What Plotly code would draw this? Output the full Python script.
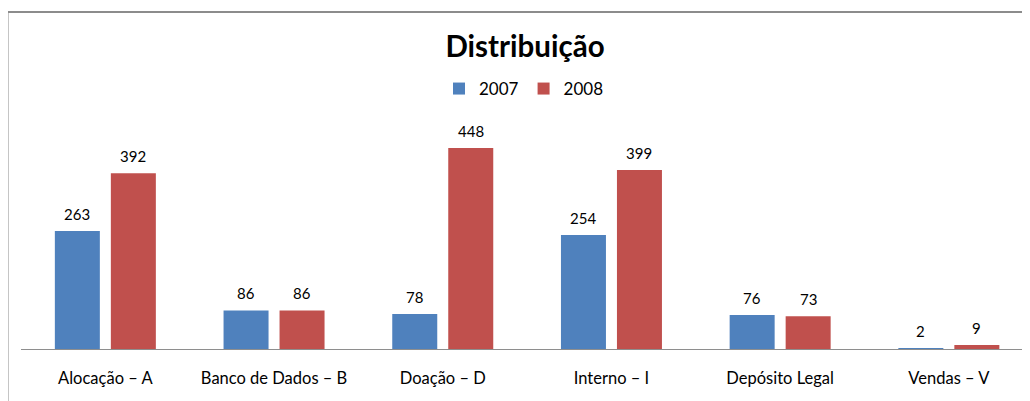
import plotly.graph_objects as go

categories = ["Alocação – A", "Banco de Dados – B", "Doação – D", "Interno – I", "Depósito Legal", "Vendas – V"]
series_names = ["2007", "2008"]
values_2007 = [263, 86, 78, 254, 76, 2]
values_2008 = [392, 86, 448, 399, 73, 9]

colors = ["#4F81BD", "#C0504D"]
FONT = "Lato"

# page body has an 8px margin, so the figure is offset to compensate
W, H = 1030, 393
ML, MT, MB = 13, 92, 52
plot_w = W - ML
plot_h = H - MT - MB
cat_px = 168.7
x_max = -0.5 + plot_w / cat_px

offset = 28 / cat_px
bar_w = 45 / cat_px

idx = list(range(len(categories)))
fig = go.Figure()
annotations = []
for k, (name, vals) in enumerate(zip(series_names, [values_2007, values_2008])):
    xs = [i + (-offset if k == 0 else offset) for i in idx]
    fig.add_trace(go.Bar(x=xs, y=vals, name=name, width=bar_w,
                         marker=dict(color=colors[k], line=dict(width=0))))
    for x, v in zip(xs, vals):
        annotations.append(dict(x=x, y=v, xref="x", yref="y", text=str(v), showarrow=False,
                                yanchor="bottom", yshift=6,
                                font=dict(family=FONT, size=15, color="#000000")))

fig.update_layout(
    width=W, height=H,
    margin=dict(l=ML, r=0, t=MT, b=MB, pad=0),
    paper_bgcolor="white", plot_bgcolor="white",
    title=dict(text="<b>Distribuição</b>", x=517 / W, xanchor="center",
               y=1 - 39 / H, yanchor="middle", yref="container",
               font=dict(family=FONT, size=29.5, color="#000000")),
    legend=dict(orientation="h", x=(524 - 21) / plot_w, xanchor="center",
                y=(349 - 89) / plot_h, yanchor="middle",
                font=dict(family=FONT, size=17, color="#000000"),
                itemwidth=30, traceorder="normal", bgcolor="rgba(0,0,0,0)"),
    showlegend=True,
    annotations=annotations,
    xaxis=dict(range=[-0.5, x_max], tickmode="array", tickvals=idx, ticktext=categories,
               showgrid=False, zeroline=False, showline=True, linecolor="#8E8E8E", linewidth=1,
               ticks="outside", ticklen=14, tickcolor="rgba(0,0,0,0)",
               tickfont=dict(family=FONT, size=16.5, color="#000000"), fixedrange=True),
    yaxis=dict(range=[0, plot_h / (201 / 448)], visible=False, fixedrange=True),
    shapes=[
        dict(type="line", xref="paper", yref="paper", x0=(7 - 21) / plot_w, x1=1.2,
             y0=(349 - 12) / plot_h, y1=(349 - 12) / plot_h, line=dict(color="#8C8C8C", width=2)),
        dict(type="line", xref="paper", yref="paper", x0=(7.5 - 21) / plot_w, x1=(7.5 - 21) / plot_w,
             y0=(349 - 12) / plot_h, y1=-1, line=dict(color="#8C8C8C", width=2)),
    ],
)

fig.write_html("out.html")
